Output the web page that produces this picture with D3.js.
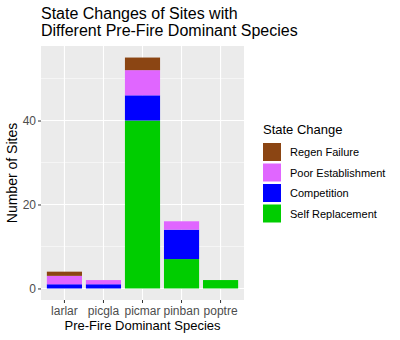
<!DOCTYPE html>
<html><head><meta charset="utf-8">
<script src="https://cdn.jsdelivr.net/npm/d3@7"></script>
<style>body{margin:0;background:#fff}svg{display:block;font-family:"Liberation Sans",Arial,sans-serif}</style>
</head><body><svg id="c" width="400" height="340"></svg>
<script>
const categories = ["larlar","picgla","picmar","pinban","poptre"];
const stateChanges = ["Regen Failure","Poor Establishment","Competition","Self Replacement"];
const selfReplacement = [0,0,40,7,2];
const competition = [1,1,6,7,0];
const poorEstablishment = [2,1,6,2,0];
const regenFailure = [1,0,3,0,0];
const yTicks = [0,20,40];
const colors = ["#8B4513","#E066FF","#0000FF","#00CD00"];

const svg = d3.select("#c");
const L=41, R=244, T=46, B=300;
const rows = categories.map((c,i)=>({cat:c,"Self Replacement":selfReplacement[i],"Competition":competition[i],"Poor Establishment":poorEstablishment[i],"Regen Failure":regenFailure[i]}));
const keys = ["Self Replacement","Competition","Poor Establishment","Regen Failure"];
const stack = d3.stack().keys(keys)(rows);
const maxV = d3.max(rows, r=>keys.reduce((s,k)=>s+r[k],0));
const y = d3.scaleLinear().domain([-maxV*0.05, maxV*1.05]).range([B,T]);
const x = d3.scaleBand().domain(categories).range([L,R]).paddingInner(0.1).paddingOuter(0.15);
const colorScale = d3.scaleOrdinal().domain(stateChanges).range(colors);

svg.append("rect").attr("x",L).attr("y",T).attr("width",R-L).attr("height",B-T).attr("fill","#EBEBEB");
const minor = [10,30,50];
svg.append("g").selectAll("line").data(minor).join("line")
  .attr("x1",L).attr("x2",R).attr("y1",d=>y(d)).attr("y2",d=>y(d))
  .attr("stroke","#fff").attr("stroke-width",0.5);
svg.append("g").selectAll("line").data(yTicks).join("line")
  .attr("x1",L).attr("x2",R).attr("y1",d=>y(d)).attr("y2",d=>y(d))
  .attr("stroke","#fff").attr("stroke-width",1.1);
svg.append("g").selectAll("line").data(categories).join("line")
  .attr("x1",d=>x(d)+x.bandwidth()/2).attr("x2",d=>x(d)+x.bandwidth()/2).attr("y1",T).attr("y2",B)
  .attr("stroke","#fff").attr("stroke-width",1.1);

svg.append("g").selectAll("g").data(stack).join("g")
  .attr("fill",d=>colorScale(d.key))
  .selectAll("rect").data(d=>d.filter(s=>s[1]>s[0])).join("rect")
  .attr("x",d=>x(d.data.cat)).attr("width",x.bandwidth())
  .attr("y",d=>y(d[1])).attr("height",d=>y(d[0])-y(d[1]));

const ya = svg.append("g").attr("transform",`translate(${L},0)`)
  .call(d3.axisLeft(y).tickValues(yTicks).tickSize(3).tickPadding(2));
const xa = svg.append("g").attr("transform",`translate(0,${B})`)
  .call(d3.axisBottom(x).tickSize(3).tickPadding(3));
[ya,xa].forEach(a=>{a.select(".domain").remove();
  a.selectAll(".tick line").attr("stroke","#333");
  a.selectAll("text").attr("fill","#4D4D4D").attr("font-size",12).attr("font-family","Liberation Sans, Arial, sans-serif");});

svg.append("text").attr("x",(L+R)/2).attr("y",330).attr("text-anchor","middle")
  .attr("font-size",13).attr("fill","#000").text("Pre-Fire Dominant Species");
svg.append("text").attr("transform",`translate(17,${(T+B)/2}) rotate(-90)`).attr("text-anchor","middle")
  .attr("font-size",14).attr("fill","#000").text("Number of Sites");

const title = svg.append("text").attr("x",L).attr("font-size",16).attr("fill","#000");
title.append("tspan").attr("x",L).attr("y",19).text("State Changes of Sites with");
title.append("tspan").attr("x",L).attr("y",36).text("Different Pre-Fire Dominant Species");

const lg = svg.append("g");
lg.append("text").attr("x",263).attr("y",134).attr("font-size",13).text("State Change");
const items = lg.selectAll("g").data(stateChanges).join("g")
  .attr("transform",(d,i)=>`translate(263,${143+i*20.5})`);
items.append("rect").attr("width",18).attr("height",18).attr("fill",d=>colorScale(d));
items.append("text").attr("x",27).attr("y",13).attr("font-size",11).text(d=>d);
</script></body></html>
